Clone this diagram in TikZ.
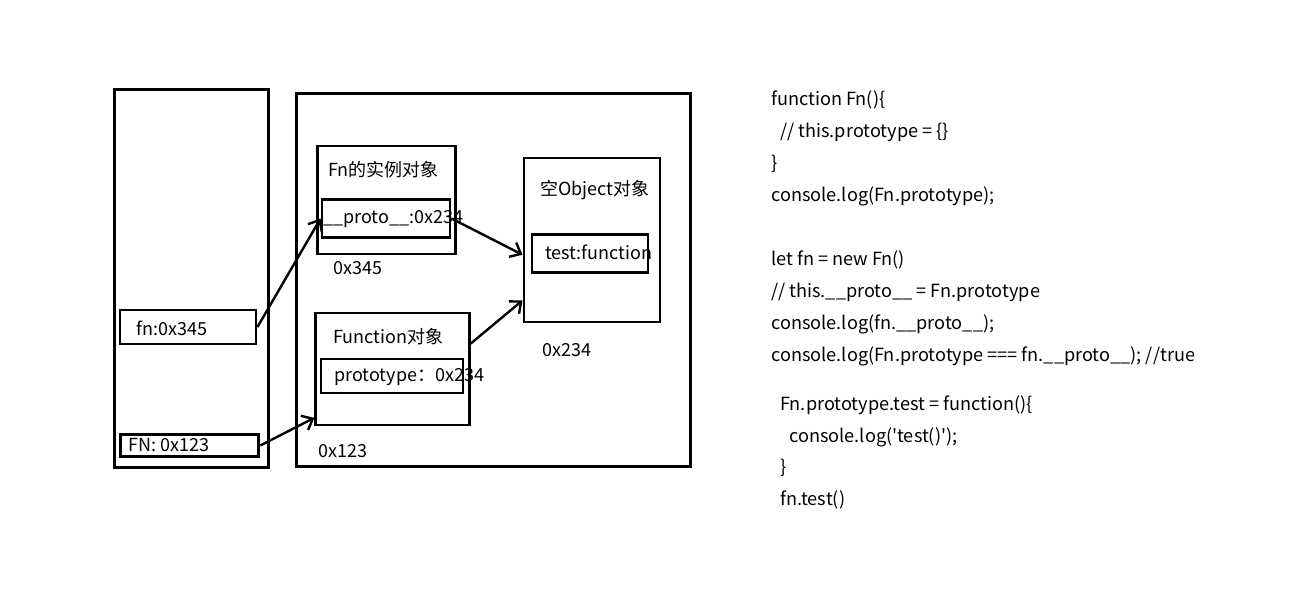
\documentclass[tikz,border=0pt]{standalone}
\usepackage{fontspec}
\setmainfont{Noto Sans CJK SC}
\usetikzlibrary{arrows.meta}
\tikzset{
  box/.style={draw, line width=2.2pt, inner sep=0pt},
  lbl/.style={anchor=west, inner sep=0pt, font=\fontsize{13.5}{15}\selectfont},
  code/.style={anchor=west, inner sep=0pt, font=\fontsize{13.6}{15}\selectfont},
  ptr/.style={line width=1.8pt, -{Straight Barb[length=7pt,width=12pt]}}
}
\begin{document}
\begin{tikzpicture}[x=0.75pt, y=-0.75pt]
\useasboundingbox (0,0) rectangle (1313,591);
				% stack and heap
				\node (stack) [box, minimum width=116pt, minimum height=284pt] at (191.5,278.5) {};
				\node (heap) [box, minimum width=295pt, minimum height=280pt] at (493.5,280) {};
				\node (fnvar) [box, minimum width=102pt, minimum height=25.5pt] at (188,327) {};
				\node (FNvar) [box, minimum width=104pt, minimum height=17pt] at (189.5,445.5) {};
				\node [lbl] at (136,328) {fn:0x345};
				\node [lbl] at (128,445) {FN: 0x123};
				
				% objects
				\node (inst) [box, minimum width=104pt, minimum height=81pt] at (386.5,200) {};
				\node (proto) [box, minimum width=96pt, minimum height=28pt] at (386,218.5) {};
				\node (func) [box, minimum width=115pt, minimum height=84pt] at (392.5,369) {};
				\node (protot) [box, minimum width=106.5pt, minimum height=25.5pt] at (392,376) {};
				\node (obj) [box, minimum width=102pt, minimum height=123pt] at (592,240) {};
				\node (test) [box, minimum width=87pt, minimum height=28pt] at (590,253.5) {};
				\node [lbl] at (328,170) {Fn的实例对象};
				\node [lbl] at (323,219) {\_\_proto\_\_:0x234};
				\node [lbl] at (333,268) {0x345};
				\node [lbl] at (333,337) {Function对象};
				\node [lbl] at (334,377) {prototype：0x234};
				\node [lbl] at (318,451) {0x123};
				\node [lbl] at (540,190) {空Object对象};
				\node [lbl] at (545,252) {test:function};
				\node [lbl] at (542,350) {0x234};
				
				\draw [ptr] (fnvar.east) -- (proto.west);
				\draw [ptr] (FNvar.east) -- (func.212.6);
				\draw [ptr] (proto.east) -- (obj.192.6);
				\draw [ptr] (func.18.1) -- (obj.221.4);
				
				% code
				\node [code] at (771,100) {function Fn()\{};
				\node [code] at (780,132) {// this.prototype = \{\}};
				\node [code] at (771,164) {\}};
				\node [code] at (771,196) {console.log(Fn.prototype);};
				\node [code] at (771,260) {let fn = new Fn()};
				\node [code] at (771,292) {// this.\_\_proto\_\_ = Fn.prototype};
				\node [code] at (771,324) {console.log(fn.\_\_proto\_\_);};
				\node [code] at (771,356) {console.log(Fn.prototype === fn.\_\_proto\_\_); //true};
				\node [code] at (780,405) {Fn.prototype.test = function()\{};
				\node [code] at (789,437) {console.log(\textquotesingle test()\textquotesingle);};
				\node [code] at (780,468) {\}};
				\node [code] at (780,500) {fn.test()};
			\end{tikzpicture}
\end{document}
